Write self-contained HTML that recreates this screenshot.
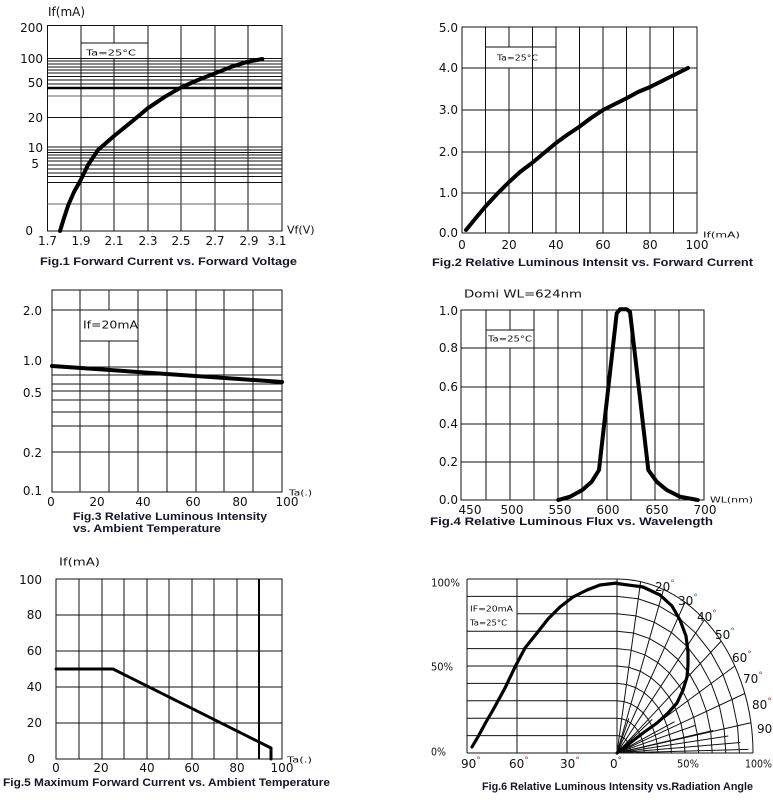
<!DOCTYPE html>
<html><head><meta charset="utf-8"><style>
html,body{margin:0;padding:0;background:#fff;}
svg{display:block;}
.t{font-family:"DejaVu Sans","Liberation Sans",sans-serif;font-size:12px;fill:#111;}
.m{font-family:"DejaVu Sans","Liberation Sans",sans-serif;font-size:11px;fill:#111;}
.s{font-family:"DejaVu Sans","Liberation Sans",sans-serif;font-size:8px;fill:#111;}
.ti{font-family:"Liberation Sans",sans-serif;font-size:11px;font-weight:bold;fill:#15152a;}
.g{stroke:#111;stroke-width:1;fill:none;}
.gg{stroke:#666;stroke-width:1;fill:none;}
.c{stroke:#000;fill:none;stroke-linecap:round;stroke-linejoin:round;}
</style></head><body>
<svg width="773" height="800" viewBox="0 0 773 800" xmlns="http://www.w3.org/2000/svg">
<g dominant-baseline="central">

<!-- ============ Chart 1 ============ -->
<g>
<rect x="47.5" y="25.5" width="234.5" height="205.5" class="g"/>
<path class="g" d="M81,25V231 M114,25V43 M114,59V231 M148,25V231 M181,25V231 M215,25V231 M248,25V231 M81,43H148"/>
<path class="g" d="M47.5,58.5H282 M47.5,61H282 M47.5,64H282 M47.5,67H282 M47.5,70H282 M47.5,73H282 M47.5,76.5H282 M47.5,80H282 M47.5,84H282 M47.5,117.5H282 M47.5,147H282 M47.5,150H282 M47.5,152.5H282 M47.5,155H282 M47.5,158H282 M47.5,161H282 M47.5,165H282 M47.5,169H282 M47.5,173H282 M47.5,176.5H282 M47.5,182.5H282"/>
<path class="gg" d="M47.5,96H282 M47.5,204H282"/>
<path d="M47.5,88H282" stroke="#000" stroke-width="2.5"/>
<polyline class="c" stroke-width="4" points="60,231 64,218 68.3,205 74,192 80.7,180 88,165 98,150 114,136 131.7,121.7 147.7,108.3 165,96.7 181.3,87.3 198,80 215,73.3 231.7,66.7 248,61.7 262.3,59"/>
<text class="t" x="48" y="12">If(mA)</text>
<g text-anchor="end">
<text class="t" x="43" y="28">200</text>
<text class="t" x="43" y="59">100</text>
<text class="t" x="43" y="83">50</text>
<text class="t" x="43" y="118">20</text>
<text class="t" x="43" y="148">10</text>
<text class="t" x="39" y="164">5</text>
<text class="t" x="33" y="231">0</text>
</g>
<g text-anchor="middle">
<text class="t" x="47.5" y="241">1.7</text>
<text class="t" x="81" y="241">1.9</text>
<text class="t" x="114" y="241">2.1</text>
<text class="t" x="148" y="241">2.3</text>
<text class="t" x="181" y="241">2.5</text>
<text class="t" x="215" y="241">2.7</text>
<text class="t" x="249" y="241">2.9</text>
<text class="t" x="277" y="241">3.1</text>
</g>
<text class="m" x="287" y="230">Vf(V)</text>
<text class="s" x="86" y="53" textLength="50" lengthAdjust="spacingAndGlyphs">Ta=25°C</text>
<text class="ti" x="40" y="262" textLength="257" lengthAdjust="spacingAndGlyphs">Fig.1 Forward Current vs. Forward Voltage</text>
</g>

<!-- ============ Chart 2 ============ -->
<g>
<rect x="462" y="27" width="235" height="206" class="g"/>
<path class="g" d="M485.5,27V233 M509,27V47 M509,68V233 M532.5,27V233 M556,27V233 M579.5,27V233 M603,27V233 M626.5,27V233 M650,27V233 M673.5,27V233 M485.5,47H556"/>
<path class="g" d="M462,68H697 M462,110H697 M462,152H697 M462,193H697"/>
<polyline class="c" stroke-width="4" points="466,230 475,219 485,207 497,194 509,182 520,172 532,163 544,153 556,143 567,135 579,127 591,118 603,110 615,104 627,98 638,92 650,87 662,81 674,75 688,68"/>
<g text-anchor="end">
<text class="t" x="458" y="28">5.0</text>
<text class="t" x="458" y="68">4.0</text>
<text class="t" x="458" y="110">3.0</text>
<text class="t" x="458" y="152">2.0</text>
<text class="t" x="458" y="193">1.0</text>
<text class="t" x="458" y="233">0.0</text>
</g>
<g text-anchor="middle">
<text class="t" x="462" y="245">0</text>
<text class="t" x="509" y="245">20</text>
<text class="t" x="556" y="245">40</text>
<text class="t" x="603" y="245">60</text>
<text class="t" x="650" y="245">80</text>
<text class="t" x="697" y="245">100</text>
</g>
<text class="s" x="703" y="235" textLength="37" lengthAdjust="spacingAndGlyphs">If(mA)</text>
<text class="s" x="497" y="58" textLength="41" lengthAdjust="spacingAndGlyphs">Ta=25°C</text>
<text class="ti" x="432" y="263" textLength="321" lengthAdjust="spacingAndGlyphs">Fig.2 Relative Luminous Intensit  vs. Forward Current</text>
</g>

<!-- ============ Chart 3 ============ -->
<g>
<rect x="52" y="290" width="230" height="202" class="g"/>
<path class="g" d="M80,290V492 M109,290V310 M109,341V492 M138,290V492 M167,290V492 M196,290V492 M224,290V492 M253,290V492 M80,341H138"/>
<path class="g" d="M52,310H282 M52,367H282 M52,375H282 M52,384H282 M52,391H282 M52,400H282 M52,412H282 M52,426H282 M52,452H282"/>
<polyline class="c" stroke-width="4" points="52,366 282,382"/>
<text class="m" x="83" y="325" textLength="55" lengthAdjust="spacingAndGlyphs">If=20mA</text>
<g text-anchor="end">
<text class="t" x="42" y="311">2.0</text>
<text class="t" x="42" y="361">1.0</text>
<text class="t" x="42" y="393">0.5</text>
<text class="t" x="42" y="453">0.2</text>
<text class="t" x="42" y="491">0.1</text>
</g>
<g text-anchor="middle">
<text class="t" x="51" y="502">0</text>
<text class="t" x="97" y="502">20</text>
<text class="t" x="143" y="502">40</text>
<text class="t" x="193" y="502">60</text>
<text class="t" x="240" y="502">80</text>
<text class="t" x="287" y="502">100</text>
</g>
<text class="s" x="289" y="493" textLength="23" lengthAdjust="spacingAndGlyphs">Ta(.)</text>
<text class="ti" x="73" y="517" textLength="194" lengthAdjust="spacingAndGlyphs">Fig.3 Relative Luminous Intensity</text>
<text class="ti" x="73" y="529" textLength="148" lengthAdjust="spacingAndGlyphs">vs. Ambient Temperature</text>
</g>

<!-- ============ Chart 4 ============ -->
<g>
<rect x="461" y="310" width="243" height="190" class="g"/>
<path class="g" d="M486,310V500 M510,310V330 M510,348V500 M534,310V500 M558,310V500 M582,310V500 M607,310V500 M631,310V500 M655,310V500 M679,310V500 M486,330H534"/>
<path class="g" d="M461,348H704 M461,387H704 M461,424H704 M461,462H704"/>
<polyline class="c" stroke-width="4" points="558.3,500 570,496.7 582.3,490 591.7,481.7 599,470 616.7,313.3 620,309.3 626.7,309.3 630,311.7 648.3,470 656.7,481.7 666.7,490 680,496.7 697.7,500"/>
<text class="m" x="464" y="294" textLength="118" lengthAdjust="spacingAndGlyphs">Domi  WL=624nm</text>
<text class="s" x="488" y="339" textLength="44" lengthAdjust="spacingAndGlyphs">Ta=25°C</text>
<g text-anchor="end">
<text class="t" x="458" y="311">1.0</text>
<text class="t" x="458" y="348">0.8</text>
<text class="t" x="458" y="387">0.6</text>
<text class="t" x="458" y="424">0.4</text>
<text class="t" x="458" y="462">0.2</text>
<text class="t" x="458" y="500">0.0</text>
</g>
<g text-anchor="middle">
<text class="t" x="470" y="510">450</text>
<text class="t" x="512" y="510">500</text>
<text class="t" x="560" y="510">550</text>
<text class="t" x="608" y="510">600</text>
<text class="t" x="657" y="510">650</text>
<text class="t" x="705" y="510">700</text>
</g>
<text class="s" x="710" y="500" textLength="43" lengthAdjust="spacingAndGlyphs">WL(nm)</text>
<text class="ti" x="430" y="522" textLength="283" lengthAdjust="spacingAndGlyphs">Fig.4 Relative Luminous Flux  vs. Wavelength</text>
</g>

<!-- ============ Chart 5 ============ -->
<g>
<rect x="56" y="579" width="226" height="180" class="g"/>
<path class="g" d="M79,579V759 M102,579V759 M124,579V759 M147,579V759 M169,579V759 M192,579V759 M214,579V759 M237,579V759"/>
<path d="M259,579V759" stroke="#000" stroke-width="2"/>
<path class="g" d="M56,615H282 M56,651H282 M56,687H282 M56,723H282"/>
<polyline class="c" stroke-width="3" stroke-linecap="butt" points="56,669 113,669 271,748 271,759"/>
<g text-anchor="end">
<text class="t" x="42" y="580">100</text>
<text class="t" x="42" y="615">80</text>
<text class="t" x="42" y="651">60</text>
<text class="t" x="42" y="687">40</text>
<text class="t" x="42" y="723">20</text>
<text class="t" x="35" y="759">0</text>
</g>
<g text-anchor="middle">
<text class="t" x="56" y="768">0</text>
<text class="t" x="101" y="768">20</text>
<text class="t" x="147" y="768">40</text>
<text class="t" x="192" y="768">60</text>
<text class="t" x="237" y="768">80</text>
<text class="t" x="282" y="768">100</text>
</g>
<text class="m" x="59" y="562" textLength="41" lengthAdjust="spacingAndGlyphs">If(mA)</text>
<text class="s" x="287" y="760" textLength="25" lengthAdjust="spacingAndGlyphs">Ta(.)</text>
<text class="ti" x="3" y="783" textLength="327" lengthAdjust="spacingAndGlyphs">Fig.5 Maximum Forward Current  vs. Ambient Temperature</text>
</g>

<!-- ============ Chart 6 ============ -->
<g>
<path class="g" d="M467,579H617 M467,579V753 M467,753H753 M517,579V753 M567,579V753 M617,579V753"/>
<path class="g" d="M467,596.4H617 M517,613.8H617 M467,631.2H617 M467,648.6H617 M467,666H617 M467,683.4H617 M467,700.8H617 M467,718.2H617 M467,735.6H617"/>
<path class="g" d="M617,579 A136,174 0 0 1 753,753"/>
<g transform="translate(617,753)">
<path class="g" d="M0,0L23.61,-171.36 M0,0L46.51,-163.51 M0,0L68,-150.68 M0,0L87.42,-133.28 M0,0L104.18,-111.85 M0,0L117.78,-87 M0,0L127.8,-59.51 M0,0L133.93,-30.21"/>
<path class="g" stroke-width="0.6" d="M0,0L11.85,-34.67 M0,0L35.2,-33.6 M0,0L57.5,-31.3 M0,0L78,-27.5 M0,0L96,-22.5 M0,0L111.3,-17 M0,0L123.3,-10.5 M0,0L131.5,-3.6"/>
<polyline class="g" vector-effect="non-scaling-stroke" transform="scale(0.1)" points="0,-174 23.61,-171.36 46.51,-163.51 68,-150.68 87.42,-133.28 104.18,-111.85 117.78,-87 127.8,-59.51 133.93,-30.21 136,0"/>
<polyline class="g" vector-effect="non-scaling-stroke" transform="scale(0.2)" points="0,-174 23.61,-171.36 46.51,-163.51 68,-150.68 87.42,-133.28 104.18,-111.85 117.78,-87 127.8,-59.51 133.93,-30.21 136,0"/>
<polyline class="g" vector-effect="non-scaling-stroke" transform="scale(0.3)" points="0,-174 23.61,-171.36 46.51,-163.51 68,-150.68 87.42,-133.28 104.18,-111.85 117.78,-87 127.8,-59.51 133.93,-30.21 136,0"/>
<polyline class="g" vector-effect="non-scaling-stroke" transform="scale(0.4)" points="0,-174 23.61,-171.36 46.51,-163.51 68,-150.68 87.42,-133.28 104.18,-111.85 117.78,-87 127.8,-59.51 133.93,-30.21 136,0"/>
<polyline class="g" vector-effect="non-scaling-stroke" transform="scale(0.5)" points="0,-174 23.61,-171.36 46.51,-163.51 68,-150.68 87.42,-133.28 104.18,-111.85 117.78,-87 127.8,-59.51 133.93,-30.21 136,0"/>
<polyline class="g" vector-effect="non-scaling-stroke" transform="scale(0.6)" points="0,-174 23.61,-171.36 46.51,-163.51 68,-150.68 87.42,-133.28 104.18,-111.85 117.78,-87 127.8,-59.51 133.93,-30.21 136,0"/>
<polyline class="g" vector-effect="non-scaling-stroke" transform="scale(0.7)" points="0,-174 23.61,-171.36 46.51,-163.51 68,-150.68 87.42,-133.28 104.18,-111.85 117.78,-87 127.8,-59.51 133.93,-30.21 136,0"/>
<polyline class="g" vector-effect="non-scaling-stroke" transform="scale(0.8)" points="0,-174 23.61,-171.36 46.51,-163.51 68,-150.68 87.42,-133.28 104.18,-111.85 117.78,-87 127.8,-59.51 133.93,-30.21 136,0"/>
<polyline class="g" vector-effect="non-scaling-stroke" transform="scale(0.9)" points="0,-174 23.61,-171.36 46.51,-163.51 68,-150.68 87.42,-133.28 104.18,-111.85 117.78,-87 127.8,-59.51 133.93,-30.21 136,0"/>
</g>
<polyline class="c" stroke-width="3.2" points="472,747 479,735 486,722 493,710 505,688 515,667 525,648 537,633 548,619 560,607 573,597 587,590 600,585 617,583"/>
<polyline class="c" stroke-width="3.2" points="617,583.5 643,587 660,595 672,606 680,620 686,636 688,652 688,665 687,677 683,690 677,703 668,713 657,723 643,733 630,743 617,753"/>
<text class="s" x="470" y="609" textLength="43" lengthAdjust="spacingAndGlyphs">IF=20mA</text>
<text class="s" x="470" y="623" textLength="37" lengthAdjust="spacingAndGlyphs">Ta=25°C</text>
<text class="m" x="431" y="583" textLength="29" lengthAdjust="spacingAndGlyphs">100%</text>
<text class="m" x="431" y="667" textLength="22" lengthAdjust="spacingAndGlyphs">50%</text>
<text class="m" x="431" y="752" textLength="15" lengthAdjust="spacingAndGlyphs">0%</text>
<text class="t" x="655" y="587">20<tspan fill="#c22" font-size="9" dy="-3">°</tspan></text>
<text class="t" x="678" y="601">30<tspan fill="#2a5fc0" font-size="9" dy="-3">°</tspan></text>
<text class="t" x="697" y="617">40<tspan fill="#c22" font-size="9" dy="-3">°</tspan></text>
<text class="t" x="715" y="635">50<tspan fill="#2a5fc0" font-size="9" dy="-3">°</tspan></text>
<text class="t" x="732" y="658">60<tspan fill="#c22" font-size="9" dy="-3">°</tspan></text>
<text class="t" x="743" y="679">70<tspan fill="#c22" font-size="9" dy="-3">°</tspan></text>
<text class="t" x="752" y="705">80<tspan fill="#c22" font-size="9" dy="-3">°</tspan></text>
<text class="t" x="757" y="729">90</text>
<text class="t" x="461" y="764">90<tspan fill="#c22" font-size="9" dy="-3">°</tspan></text>
<text class="t" x="509" y="764">60<tspan fill="#c22" font-size="9" dy="-3">°</tspan></text>
<text class="t" x="560" y="764">30<tspan fill="#c22" font-size="9" dy="-3">°</tspan></text>
<text class="t" x="610" y="764">0<tspan fill="#c22" font-size="9" dy="-3">°</tspan></text>
<text class="m" x="677" y="764" textLength="22" lengthAdjust="spacingAndGlyphs">50%</text>
<text class="m" x="745" y="764" textLength="27" lengthAdjust="spacingAndGlyphs">100%</text>
<text class="ti" x="482" y="787" font-size="10.5" textLength="271" lengthAdjust="spacingAndGlyphs">Fig.6 Relative Luminous Intensity vs.Radiation Angle</text>
</g>

</g>
</svg>
</body></html>
